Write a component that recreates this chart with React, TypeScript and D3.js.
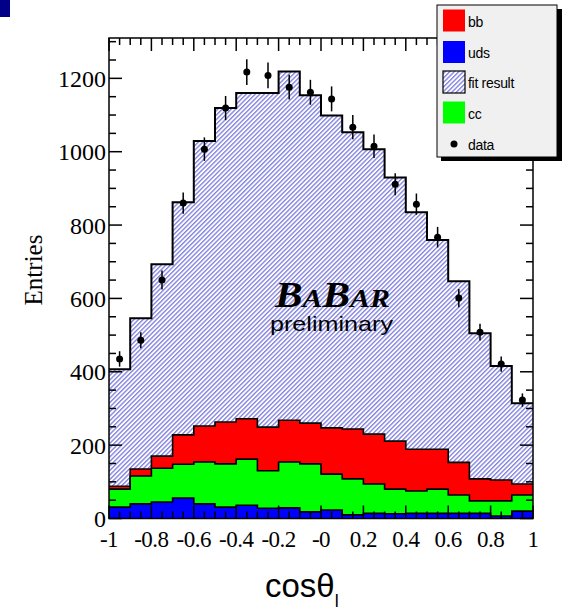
import { useEffect, useRef } from "react";
import * as d3 from "d3";

const W = 562,
  H = 613;

// bin edges (20 bins of 0.1 in cos theta_l)
const binEdges = [
  -1, -0.9, -0.8, -0.7, -0.6, -0.5, -0.4, -0.3, -0.2, -0.1, 0, 0.1, 0.2, 0.3,
  0.4, 0.5, 0.6, 0.7, 0.8, 0.9, 1,
];

// fit result (total)
const fitTotal = [
  407, 546, 693, 862, 1029, 1119, 1160, 1160, 1219, 1154, 1099, 1053, 1007,
  930, 835, 759, 647, 505, 416, 314,
];
// bb + cc + uds (top of red)
const bbStack = [
  88, 135, 170, 228, 252, 263, 272, 249, 268, 260, 247, 244, 230, 211, 189,
  189, 153, 108, 105, 94,
];
// cc + uds (top of green)
const ccStack = [
  80, 116, 137, 148, 154, 149, 162, 130, 154, 149, 121, 108, 94, 80, 75, 80,
  64, 48, 48, 64,
];
// uds
const udsVals = [
  31, 40, 45, 56, 40, 31, 36, 28, 29, 18, 23, 10, 14, 13, 14, 14, 14, 14, 7,
  20,
];
// data points
const dataVals = [
  435, 486, 650, 860, 1007, 1119, 1217, 1208, 1176, 1162, 1144, 1067, 1015,
  911, 857, 767, 601, 508, 421, 323,
];
const dataErr = [
  21, 22, 26, 29, 32, 33, 35, 35, 34, 34, 34, 33, 32, 30, 29, 28, 25, 23, 21,
  18,
];

const xTickLabels = ["-1", "-0.8", "-0.6", "-0.4", "-0.2", "-0", "0.2", "0.4", "0.6", "0.8", "1"];
const yTicks = [0, 200, 400, 600, 800, 1000, 1200];

const legendItems = [
  { label: "bb", fill: "#ff0000" },
  { label: "uds", fill: "#0000ff" },
  { label: "fit result", fill: "url(#hatch)" },
  { label: "cc", fill: "#00ff00" },
  { label: "data", fill: "dot" },
];

function App() {
  const svgRef = useRef(null);

  const buildSVG = () => {
    const svg = d3.select(svgRef.current);
    svg.selectAll("*").remove();

    const x = d3.scaleLinear().domain([-1, 1]).range([109, 533]);
    const y = d3.scaleLinear().domain([0, 1310]).range([518.5, 38]);

    const defs = svg.append("defs");
    const pat = defs
      .append("pattern")
      .attr("id", "hatch")
      .attr("patternUnits", "userSpaceOnUse")
      .attr("width", 3.2)
      .attr("height", 3.2)
      .attr("patternTransform", "rotate(-45)");
    pat.append("rect").attr("width", 3.2).attr("height", 3.2).attr("fill", "#fff");
    pat
      .append("line")
      .attr("x1", 0)
      .attr("y1", 0.7)
      .attr("x2", 3.2)
      .attr("y2", 0.7)
      .attr("stroke", "#7070dc")
      .attr("stroke-width", 1.2);

    // blue corner square
    svg.append("rect").attr("x", 0).attr("y", 0).attr("width", 10).attr("height", 17).attr("fill", "#000088");

    const steps = (vals: number[]) =>
      vals.flatMap((v, i) => [
        [binEdges[i], v],
        [binEdges[i + 1], v],
      ]);
    const area = d3
      .area<number[]>()
      .x((d) => x(d[0]))
      .y0(y(0))
      .y1((d) => y(d[1]));
    const line = d3
      .line<number[]>()
      .x((d) => x(d[0]))
      .y((d) => y(d[1]));

    const drawHist = (vals: number[], fill: string, sw: number) => {
      const pts = steps(vals);
      svg.append("path").attr("d", area(pts)).attr("fill", fill);
      svg
        .append("path")
        .attr("d", line(pts))
        .attr("fill", "none")
        .attr("stroke", "#000")
        .attr("stroke-width", sw);
    };

    drawHist(fitTotal, "url(#hatch)", 2);
    drawHist(bbStack, "#ff0000", 1.6);
    drawHist(ccStack, "#00ff00", 1.6);
    drawHist(udsVals, "#0000ff", 1.6);

    // BaBar logo text
    const logo = svg
      .append("text")
      .attr("x", 275)
      .attr("y", 307)
      .attr("font-family", "Liberation Serif")
      .attr("font-weight", "bold")
      .attr("font-style", "italic")
      .attr("textLength", 115)
      .attr("lengthAdjust", "spacingAndGlyphs");
    [
      ["B", 36],
      ["A", 26],
      ["B", 36],
      ["AR", 26],
    ].forEach(([t, s]) => logo.append("tspan").attr("font-size", s).text(t as string));
    svg
      .append("text")
      .attr("x", 270)
      .attr("y", 331)
      .attr("font-family", "Liberation Sans")
      .attr("font-size", 21)
      .attr("textLength", 123)
      .attr("lengthAdjust", "spacingAndGlyphs")
      .text("preliminary");

    // data points
    const centers = dataVals.map((_, i) => (binEdges[i] + binEdges[i + 1]) / 2);
    const pts = svg.append("g");
    dataVals.forEach((v, i) => {
      pts
        .append("line")
        .attr("x1", x(centers[i]))
        .attr("x2", x(centers[i]))
        .attr("y1", y(v - dataErr[i]))
        .attr("y2", y(v + dataErr[i]))
        .attr("stroke", "#000")
        .attr("stroke-width", 1.5);
      pts.append("circle").attr("cx", x(centers[i])).attr("cy", y(v)).attr("r", 3.5).attr("fill", "#000");
    });

    // frame
    const ax = svg.append("g").attr("stroke", "#000").attr("stroke-width", 1.5);
    ax.append("rect")
      .attr("x", x(-1))
      .attr("y", y(1310))
      .attr("width", x(1) - x(-1))
      .attr("height", y(0) - y(1310))
      .attr("fill", "none");

    // x ticks every 0.05, major every 0.2
    d3.range(0, 41).forEach((k) => {
      const v = -1 + k * 0.05;
      const len = k % 4 === 0 ? 13 : 7;
      ax.append("line").attr("x1", x(v)).attr("x2", x(v)).attr("y1", y(0)).attr("y2", y(0) - len);
      ax.append("line").attr("x1", x(v)).attr("x2", x(v)).attr("y1", y(1310)).attr("y2", y(1310) + len);
    });
    // y ticks every 50, major every 200
    d3.range(0, 27).forEach((k) => {
      const v = k * 50;
      const len = k % 4 === 0 ? 13 : 7;
      ax.append("line").attr("x1", x(-1)).attr("x2", x(-1) + len).attr("y1", y(v)).attr("y2", y(v));
      ax.append("line").attr("x1", x(1)).attr("x2", x(1) - len).attr("y1", y(v)).attr("y2", y(v));
    });

    // tick labels
    xTickLabels.forEach((t, i) => {
      svg
        .append("text")
        .attr("x", x(-1 + i * 0.2))
        .attr("y", 547)
        .attr("text-anchor", "middle")
        .attr("font-family", "Liberation Serif")
        .attr("font-size", 23)
        .attr("letter-spacing", -0.5)
        .text(t);
    });
    yTicks.forEach((v) => {
      svg
        .append("text")
        .attr("x", 106)
        .attr("y", y(v) + 8.5)
        .attr("text-anchor", "end")
        .attr("font-family", "Liberation Serif")
        .attr("font-size", 24)
        .text(String(v));
    });

    // axis titles
    svg
      .append("text")
      .attr("transform", "translate(42,270) rotate(-90)")
      .attr("text-anchor", "middle")
      .attr("font-family", "Liberation Serif")
      .attr("font-size", 25)
      .text("Entries");
    const xt = svg
      .append("text")
      .attr("x", 265)
      .attr("y", 597)
      .attr("font-family", "Liberation Sans")
      .attr("font-size", 33);
    xt.append("tspan").text("cosθ");
    xt.append("tspan").attr("font-size", 18).attr("dy", 10).text("l");

    // legend
    const lg = svg.append("g");
    lg.append("rect").attr("x", 441).attr("y", 9).attr("width", 121).attr("height", 152).attr("fill", "#000");
    lg.append("rect")
      .attr("x", 437)
      .attr("y", 5)
      .attr("width", 120)
      .attr("height", 152)
      .attr("fill", "#f0f0f0")
      .attr("stroke", "#000")
      .attr("stroke-width", 1);
    const rowY = [20.5, 52, 82, 112.5, 144];
    legendItems.forEach((it, i) => {
      if (it.fill === "dot") {
        lg.append("circle").attr("cx", 454).attr("cy", rowY[i]).attr("r", 3.5).attr("fill", "#000");
      } else {
        lg.append("rect")
          .attr("x", 443)
          .attr("y", rowY[i] - 11)
          .attr("width", 22)
          .attr("height", 22)
          .attr("fill", it.fill)
          .attr("stroke", it.label === "fit result" ? "#000" : "none")
          .attr("stroke-width", 1.2);
      }
      lg.append("text")
        .attr("x", 468)
        .attr("y", rowY[i] + 6)
        .attr("font-family", "Liberation Sans")
        .attr("font-size", 14)
        .attr("letter-spacing", -0.3)
        .text(it.label);
    });
  };

  useEffect(buildSVG, []);

  return (
    <svg
      ref={svgRef}
      width={W}
      height={H}
      style={{ position: "absolute", left: 0, top: 0, background: "#fff" }}
    ></svg>
  );
}

export default App;
